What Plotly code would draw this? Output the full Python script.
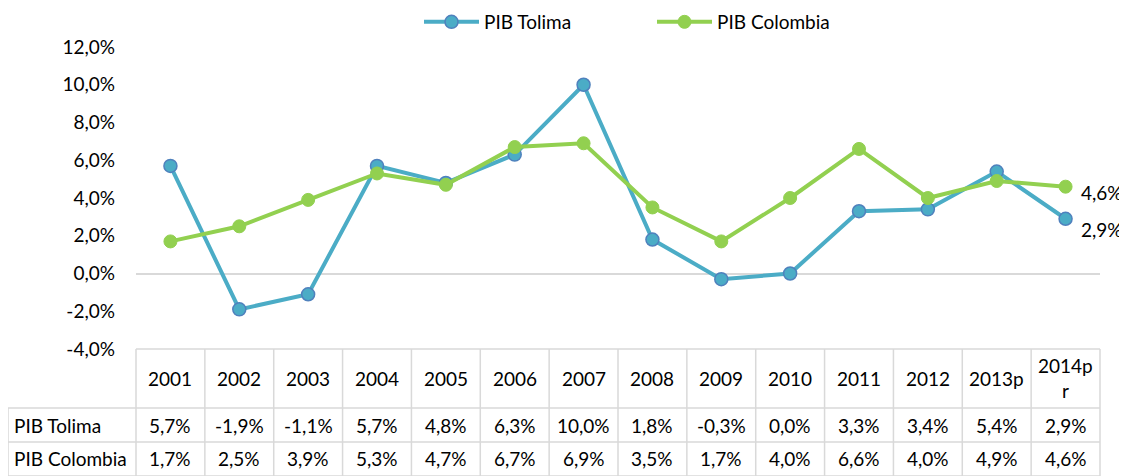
import plotly.graph_objects as go

years = ["2001", "2002", "2003", "2004", "2005", "2006", "2007", "2008",
         "2009", "2010", "2011", "2012", "2013p", "2014pr"]
pib_tolima = [5.7, -1.9, -1.1, 5.7, 4.8, 6.3, 10.0, 1.8, -0.3, 0.0, 3.3, 3.4, 5.4, 2.9]
pib_colombia = [1.7, 2.5, 3.9, 5.3, 4.7, 6.7, 6.9, 3.5, 1.7, 4.0, 6.6, 4.0, 4.9, 4.6]
series_names = ["PIB Tolima", "PIB Colombia"]
y_ticks = [-4, -2, 0, 2, 4, 6, 8, 10, 12]

# the page body has an 8px margin, so lay out in window pixels minus that offset
OFF = 8
W, H = 1127 - OFF, 476 - OFF
L, T = 136 - OFF, 47 - OFF
PLOT_R, PLOT_B = 1100 - OFF, 349 - OFF
R, B = W - PLOT_R, H - PLOT_B
FONT = "Lato, Carlito, Calibri, sans-serif"
FS = 19
GRID = "#D9D9D9"
TOLIMA = "#4BACC6"
COLOMBIA = "#92D050"

n = len(years)
x = list(range(n))
plot_h = PLOT_B - T
plot_w = PLOT_R - L


def py(px):
    # window pixel row -> paper y
    return (PLOT_B - (px - OFF)) / plot_h


def px_x(px):
    # window pixel column -> paper x
    return ((px - OFF) - L) / plot_w


def pct(v):
    return f"{v:.1f}%".replace(".", ",")


fig = go.Figure()
fig.add_trace(go.Scatter(
    x=x, y=pib_tolima, name=series_names[0], mode="lines+markers",
    line=dict(color=TOLIMA, width=4),
    marker=dict(size=13, color=TOLIMA, line=dict(color="#4F81BD", width=1.5)),
))
fig.add_trace(go.Scatter(
    x=x, y=pib_colombia, name=series_names[1], mode="lines+markers",
    line=dict(color=COLOMBIA, width=4),
    marker=dict(size=13, color=COLOMBIA, line=dict(color=COLOMBIA, width=1)),
))

tfont = dict(size=FS, color="black", family=FONT)

# end-point labels
fig.add_annotation(x=x[-1], y=pib_colombia[-1], xref="x", yref="y", text=pct(pib_colombia[-1]),
                   showarrow=False, xanchor="left", xshift=13, yshift=-6, font=tfont)
fig.add_annotation(x=x[-1], y=pib_tolima[-1], xref="x", yref="y", text=pct(pib_tolima[-1]),
                   showarrow=False, xanchor="left", xshift=13, yshift=-11, font=tfont)

# data table below the chart
row_tops = [349, 408, 442, 476]
shapes = []
line_style = dict(color=GRID, width=1.5)
shapes.append(dict(type="line", xref="paper", yref="paper", x0=0, x1=1,
                   y0=py(row_tops[0]), y1=py(row_tops[0]), line=line_style))
for yy in row_tops[1:]:
    shapes.append(dict(type="line", xref="paper", yref="paper", x0=px_x(8), x1=1,
                       y0=py(yy), y1=py(yy), line=line_style))
for k in range(n + 1):
    xx = k / n
    shapes.append(dict(type="line", xref="paper", yref="paper", x0=xx, x1=xx,
                       y0=py(row_tops[0]), y1=py(row_tops[-1]), line=line_style))
shapes.append(dict(type="line", xref="paper", yref="paper", x0=px_x(8), x1=px_x(8),
                   y0=py(row_tops[1]), y1=py(row_tops[-1]), line=line_style))

for i, yr in enumerate(years):
    label = yr if len(yr) <= 5 else yr[:5] + "<br>" + yr[5:]
    fig.add_annotation(x=i, y=py((row_tops[0] + row_tops[1]) / 2), xref="x", yref="paper",
                       text=label, showarrow=False, yanchor="middle", font=tfont)
    fig.add_annotation(x=i, y=py((row_tops[1] + row_tops[2]) / 2), xref="x", yref="paper",
                       text=pct(pib_tolima[i]), showarrow=False, yanchor="middle", font=tfont)
    fig.add_annotation(x=i, y=py((row_tops[2] + row_tops[3]) / 2), xref="x", yref="paper",
                       text=pct(pib_colombia[i]), showarrow=False, yanchor="middle", font=tfont)
for j, nm in enumerate(series_names):
    fig.add_annotation(x=px_x(12), y=py((row_tops[j + 1] + row_tops[j + 2]) / 2),
                       xref="paper", yref="paper", text=nm, showarrow=False,
                       xanchor="left", yanchor="middle", font=tfont)

fig.update_layout(
    width=W, height=H,
    margin=dict(l=L, r=R, t=T, b=B, autoexpand=False),
    plot_bgcolor="white", paper_bgcolor="white",
    font=dict(family=FONT, size=FS, color="black"),
    showlegend=True,
    legend=dict(orientation="h", x=px_x(419), xanchor="left", y=py(OFF - 5), yanchor="top",
                font=tfont, itemwidth=55, entrywidth=163, entrywidthmode="pixels"),
    shapes=shapes,
    xaxis=dict(range=[-0.5, n - 0.5], showticklabels=False, showgrid=False,
               zeroline=False, showline=False, ticks=""),
    yaxis=dict(range=[-4, 12], tickvals=y_ticks, ticktext=[pct(v) for v in y_ticks],
               showgrid=False, zeroline=True, zerolinecolor=GRID, zerolinewidth=1.5,
               showline=False, ticks="", ticklabelstandoff=20, tickfont=tfont),
)

fig.write_html("out.html")
